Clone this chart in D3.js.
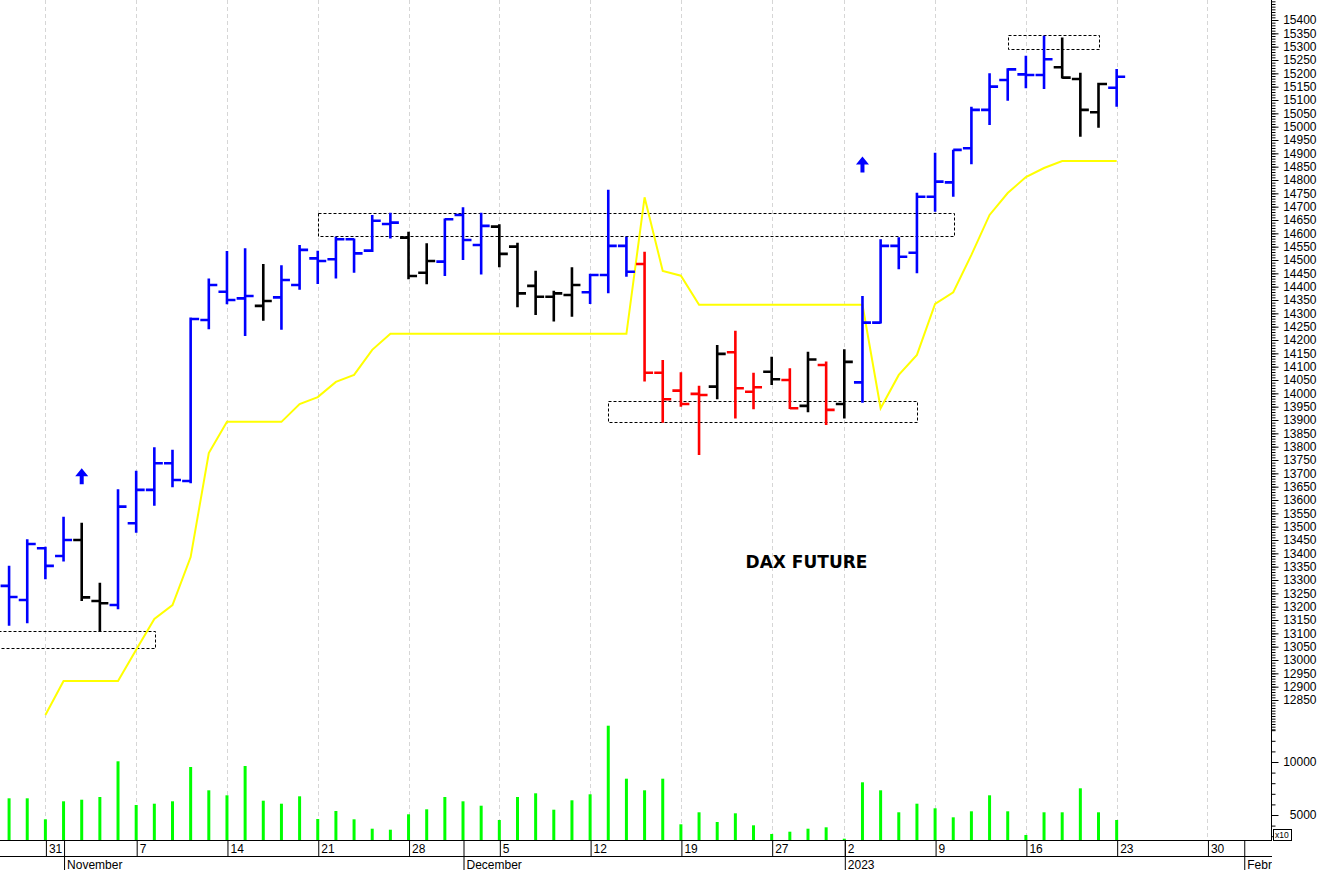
<!DOCTYPE html>
<html><head><meta charset="utf-8">
<script src="https://cdn.jsdelivr.net/npm/d3@7"></script>
<style>
body{margin:0;background:#fff;}
svg{display:block;font-family:"Liberation Sans",Arial,sans-serif;}
</style>
</head><body>
<svg id="chart" width="1319" height="870"></svg>
<script>
// ---------- DATA ----------
const dates = ["2022-10-27","2022-10-28","2022-10-31","2022-11-01","2022-11-02","2022-11-03","2022-11-04",
"2022-11-07","2022-11-08","2022-11-09","2022-11-10","2022-11-11","2022-11-14","2022-11-15","2022-11-16","2022-11-17","2022-11-18",
"2022-11-21","2022-11-22","2022-11-23","2022-11-24","2022-11-25","2022-11-28","2022-11-29","2022-11-30","2022-12-01","2022-12-02",
"2022-12-05","2022-12-06","2022-12-07","2022-12-08","2022-12-09","2022-12-12","2022-12-13","2022-12-14","2022-12-15","2022-12-16",
"2022-12-19","2022-12-20","2022-12-21","2022-12-22","2022-12-23","2022-12-27","2022-12-28","2022-12-29","2022-12-30",
"2023-01-02","2023-01-03","2023-01-04","2023-01-05","2023-01-06","2023-01-09","2023-01-10","2023-01-11","2023-01-12","2023-01-13",
"2023-01-16","2023-01-17","2023-01-18","2023-01-19","2023-01-20","2023-01-23"];
const futureDates = ["2023-01-24","2023-01-25","2023-01-26","2023-01-27","2023-01-30","2023-01-31","2023-02-01","2023-02-02"];

const open  = [13278,13225,13419,13390,13450,13221,13206,13513,13638,13738,13671,14275,14381,14356,14328,14360,14406,14506,14503,14578,14535,14635,14584,14452,14494,14669,14556,14625,14550,14403,14362,14369,14379,14444,14553,14485,14077,14010,13998,14025,14154,14006,14081,14050,13953,14106,13960,14041,14265,14553,14527,14737,14791,14919,15063,15175,15196,15194,15223,15179,15054,15146];
const high  = [13353,13453,13425,13537,13515,13290,13640,13710,13798,13788,14284,14431,14534,14544,14485,14480,14556,14535,14587,14581,14669,14677,14606,14563,14656,14698,14677,14634,14565,14460,14385,14473,14448,14763,14587,14531,14125,14079,14028,14181,14235,14077,14137,14094,14156,14119,14165,14365,14578,14585,14752,14902,14913,15075,15200,15219,15266,15341,15334,15202,15165,15216];
const low   = [13128,13138,13303,13369,13221,13106,13190,13477,13578,13648,13663,14240,14334,14215,14272,14238,14388,14410,14431,14452,14530,14581,14428,14409,14440,14500,14446,14473,14323,14294,14269,14287,14335,14375,14437,14044,13890,13950,13769,13978,13906,13940,14031,13941,13929,13881,13906,13965,14262,14465,14450,14681,14737,14859,15006,15097,15144,15141,15181,14962,14996,15075];
const close = [13236,13435,13353,13450,13235,13213,13575,13638,13738,13675,14279,14406,14350,14365,14346,14425,14538,14496,14578,14525,14647,14640,14440,14496,14653,14575,14628,14523,14375,14362,14375,14406,14444,14553,14456,14077,13978,13960,13994,14148,14019,14023,14053,13944,14127,13938,14118,14265,14553,14512,14737,14794,14913,15063,15150,15215,15194,15253,15184,15063,15160,15187];
// bar signal state: B = bullish (blue), N = neutral (black), R = bearish (red)
const trend = ["B","B","B","B","N","N","B","B","B","B","B","B","B","B","N","B","B","B","B","B","B","B","N","N","B","B","B","N","N","N","N","N","B","B","B","R","R","R","R","N","R","R","N","R","N","R","N","B","B","B","B","B","B","B","B","B","B","B","N","N","N","B"];
// volume (axis units, x10)
const volume = [6575,6575,4594,6292,6443,6698,10066,5943,6066,6292,9528,7330,6858,9623,6349,6066,6764,4623,5377,4594,3708,3613,5066,5538,6698,6292,5877,4528,6698,7047,5500,6387,6953,13425,8425,7330,8425,4123,5255,4340,5160,4028,3208,3425,3708,3840,2764,8085,7330,5255,6066,5632,4783,5349,6858,5349,3113,5255,5255,7519,5255,4528];
// trailing stop (yellow line)
const stopLine = [null,null,12794,12921,12921,12921,12921,13038,13154,13206,13386,13776,13893,13893,13893,13893,13960,13986,14043,14069,14163,14223,
14223,14223,14223,14223,14223,14223,14223,14223,14223,14223,14223,14223,14223,
14735,14459,14441,14332,
14332,14332,14332,14332,14332,14332,14332,14332,14332,
13944,14069,14144,14335,14379,14519,14669,14751,14811,14845,14871,14871,14871,14871];

// support / resistance boxes (bar index from/to, price low/high)
const boxFrom = [-2, 17, 33, 55];
const boxTo   = [8, 52, 50, 60];
const boxLow  = [13044, 14589, 13891, 15291];
const boxHigh = [13109, 14675, 13971, 15344];

// buy-signal arrows
const arrowDates  = ["2022-11-02","2023-01-03"];
const arrowPrices = [13719, 14888];

// axis labels
const weekTickDates  = ["2022-10-31","2022-11-07","2022-11-14","2022-11-21","2022-11-28","2022-12-05","2022-12-12","2022-12-19","2022-12-27","2023-01-02","2023-01-09","2023-01-16","2023-01-23","2023-01-30"];
const weekTickLabels = ["31","7","14","21","28","5","12","19","27","2","9","16","23","30"];
const monthDates  = ["2022-11-01","2022-12-01","2023-01-02","2023-02-01"];
const monthLabels = ["November","December","2023","February"];
const priceLabelTicks = d3.range(12850, 15401, 50);
const priceMinorTicks = d3.range(12740, 15471, 10);
const volLabelTicks = [5000, 10000];
const volMinorTicks = [3000,4000,5000,6000,7000,8000,9000,10000,11000,12000,13000];
const chartTitle = "DAX FUTURE";
const volUnit = "x10";

// ---------- DRAW ----------
const allDates = dates.concat(futureDates);
const idx = d => allDates.indexOf(d);
const W = 1271, H = 840;
const svg = d3.select("#chart");
const x = d3.scaleLinear().domain([-0.5, 69.5]).range([0, W]);
const y = d3.scaleLinear().domain([12850, 15400]).range([700, 20]);
const vy = d3.scaleLinear().domain([0, 10000]).range([868, 762]);
const colors = {B:"#0000ff", N:"#000000", R:"#ff0000"};

svg.append("defs").append("clipPath").attr("id","plotclip")
  .append("rect").attr("x",0).attr("y",0).attr("width",W).attr("height",H);
const plot = svg.append("g").attr("clip-path","url(#plotclip)");

// week grid lines
plot.append("g").selectAll("line").data(weekTickDates).join("line")
  .attr("x1", d => Math.round(x(idx(d)))+0.5).attr("x2", d => Math.round(x(idx(d)))+0.5)
  .attr("y1", 0).attr("y2", H)
  .attr("stroke", "#d6d6d6").attr("stroke-width", 1).attr("stroke-dasharray", "4,3");

// volume bars
plot.append("g").selectAll("line").data(volume).join("line")
  .attr("x1", (d,i) => x(i)).attr("x2", (d,i) => x(i))
  .attr("y1", H).attr("y2", d => vy(d))
  .attr("stroke", "#00ff00").attr("stroke-width", 3);

// boxes
plot.append("g").selectAll("rect").data(boxFrom).join("rect")
  .attr("x", (d,i) => Math.round(x(boxFrom[i]))+0.5)
  .attr("y", (d,i) => Math.round(y(boxHigh[i]))+0.5)
  .attr("width", (d,i) => Math.round(x(boxTo[i]) - x(boxFrom[i])))
  .attr("height", (d,i) => Math.round(y(boxLow[i]) - y(boxHigh[i])))
  .attr("fill", "none").attr("stroke", "#000").attr("stroke-width", 1).attr("stroke-dasharray", "3,2");

// trailing stop line
const stopPts = stopLine.map((v,i) => [i, v]).filter(p => p[1] !== null);
plot.append("path").datum(stopPts)
  .attr("d", d3.line().x(p => x(p[0])).y(p => y(p[1])))
  .attr("fill", "none").attr("stroke", "#ffff00").attr("stroke-width", 2);

// OHLC bars
const tl = 8.5;
const barG = plot.append("g").attr("stroke-width", 2.6).attr("fill","none");
barG.selectAll("path").data(dates).join("path")
  .attr("stroke", (d,i) => colors[trend[i]])
  .attr("d", (d,i) => {
    const cx = x(i);
    return `M${cx},${y(high[i])}V${y(low[i])}` +
           `M${cx-tl},${y(open[i])}H${cx}` +
           `M${cx},${y(close[i])}H${cx+tl}`;
  });

// arrows
plot.append("g").selectAll("path").data(arrowDates).join("path")
  .attr("transform", (d,i) => `translate(${x(idx(d))},${y(arrowPrices[i])})`)
  .attr("d", "M0,0L6.5,8L2,8L2,16L-2,16L-2,8L-6.5,8Z")
  .attr("fill", "#0000ff");

// title
svg.append("text").attr("x", 806.5).attr("y", 568.3).attr("text-anchor","middle")
  .style("font-family","'DejaVu Sans',Verdana,sans-serif").style("font-weight","bold").style("font-size","17px")
  .attr("fill","#000").text(chartTitle);

// right price axis
const styleAxis = g => { g.select(".domain").remove(); g.selectAll("line").attr("stroke","#000"); };
svg.append("g").attr("transform",`translate(${W+0.5},0)`)
  .call(d3.axisRight(y).tickValues(priceMinorTicks).tickSize(4).tickFormat(""))
  .call(styleAxis);
svg.append("g").attr("transform",`translate(${W+0.5},0)`)
  .call(d3.axisRight(y).tickValues(priceLabelTicks).tickSize(7).tickFormat(d3.format("d")))
  .call(styleAxis)
  .call(g => g.selectAll("text").attr("x", 1316 - W).attr("text-anchor","end")
     .style("font-size","12px").style("font-family","'Liberation Sans',Arial,sans-serif").attr("fill","#000"));
// volume axis
svg.append("g").attr("transform",`translate(${W+0.5},0)`)
  .call(d3.axisRight(vy).tickValues(volMinorTicks).tickSize(4).tickFormat(""))
  .call(styleAxis);
svg.append("g").attr("transform",`translate(${W+0.5},0)`)
  .call(d3.axisRight(vy).tickValues(volLabelTicks).tickSize(7).tickFormat(d3.format("d")))
  .call(styleAxis)
  .call(g => g.selectAll("text").attr("x", 1316 - W).attr("text-anchor","end")
     .style("font-size","12px").style("font-family","'Liberation Sans',Arial,sans-serif").attr("fill","#000"));
// axis line
svg.append("line").attr("x1",W+0.5).attr("x2",W+0.5).attr("y1",0).attr("y2",H).attr("stroke","#000");
// x10 box
svg.append("rect").attr("x",1273.5).attr("y",829.5).attr("width",18).attr("height",11).attr("fill","#fff").attr("stroke","#000").attr("stroke-width",1);
svg.append("text").attr("x",1275).attr("y",838).style("font-size","8.5px").attr("fill","#000").text(volUnit);

// bottom axis: bottom line, day row, month row
svg.append("line").attr("x1",0).attr("x2",W+1).attr("y1",H+0.5).attr("y2",H+0.5).attr("stroke","#000");
svg.append("line").attr("x1",0).attr("x2",W+1).attr("y1",856.5).attr("y2",856.5).attr("stroke","#000");
const xi = d3.scaleLinear().domain(x.domain()).range(x.range());
svg.append("g").attr("transform",`translate(0,${H})`)
  .call(d3.axisBottom(xi).tickValues(weekTickDates.map(idx)).tickSize(16).tickFormat((d,i) => weekTickLabels[i]))
  .call(g => g.select(".domain").remove())
  .call(g => g.selectAll(".tick line").attr("stroke","#000").attr("transform","translate(0.5,0)"))
  .call(g => g.selectAll(".tick text").attr("x",3).attr("y",13).attr("dy",null).attr("text-anchor","start")
     .style("font-size","12px").style("font-family","'Liberation Sans',Arial,sans-serif").attr("fill","#000"));
svg.append("g").attr("transform",`translate(0,${H})`)
  .call(d3.axisBottom(xi).tickValues(monthDates.map(idx)).tickSize(30).tickFormat((d,i) => monthLabels[i]))
  .call(g => g.select(".domain").remove())
  .call(g => g.selectAll(".tick line").attr("stroke","#000").attr("transform","translate(0.5,0)"))
  .call(g => g.selectAll(".tick text").attr("x",3).attr("y",28.5).attr("dy",null).attr("text-anchor","start")
     .style("font-size","12px").style("font-family","'Liberation Sans',Arial,sans-serif").attr("fill","#000"));
// mask month label overflow past axis
svg.append("rect").attr("x",W+1).attr("y",857).attr("width",1319-W).attr("height",13).attr("fill","#fff");
</script>
</body></html>
